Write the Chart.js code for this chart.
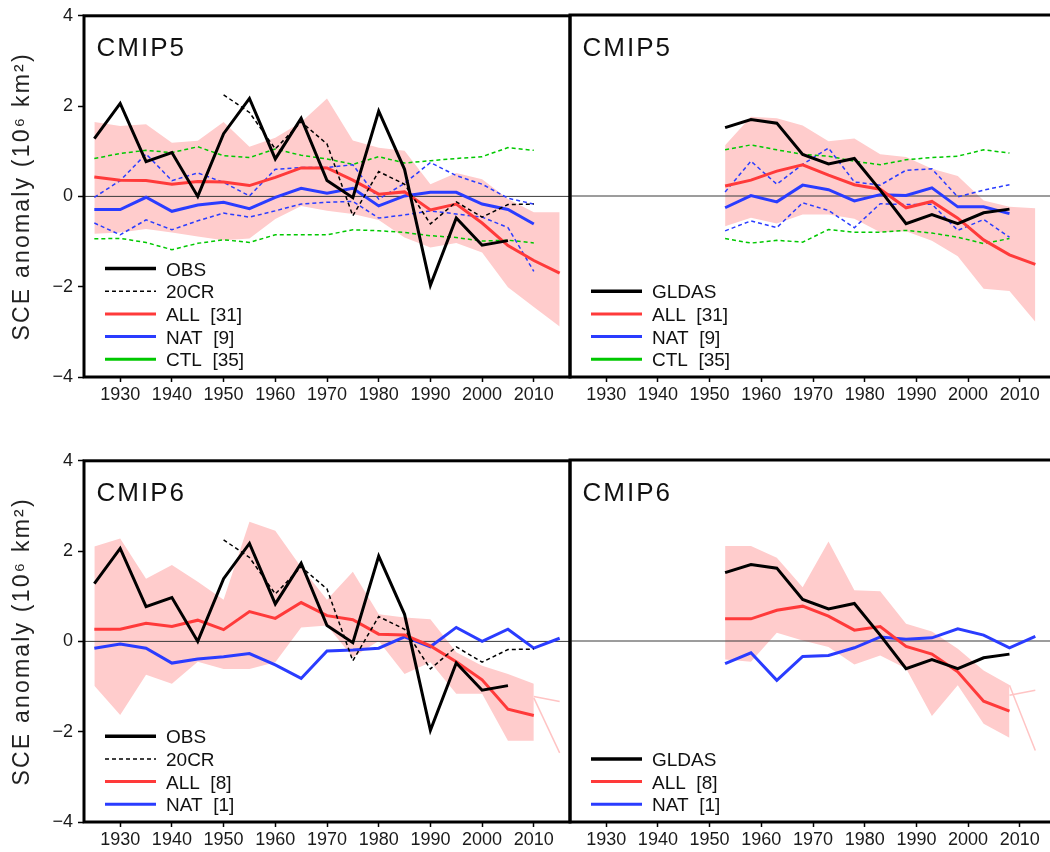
<!DOCTYPE html>
<html>
<head>
<meta charset="utf-8">
<title>SCE anomaly – CMIP5 / CMIP6</title>
<script src="https://cdn.jsdelivr.net/npm/chart.js@4/dist/chart.umd.min.js"></script>
<style>
  html, body { margin: 0; padding: 0; background: #fff; overflow: hidden; }
  #wrap { position: relative; width: 1050px; height: 852px; overflow: hidden; }
  #wrap canvas { position: absolute; }
</style>
</head>
<body>
<div id="wrap">
  <canvas id="p1" width="580" height="427" style="left:0px;top:0px"></canvas>
  <canvas id="p2" width="580" height="427" style="left:486px;top:0px"></canvas>
  <canvas id="p3" width="580" height="427" style="left:0px;top:445px"></canvas>
  <canvas id="p4" width="580" height="427" style="left:486px;top:445px"></canvas>
</div>
<script>
// ---------- axes ----------
const xMin = 1923, xMax = 2017;
const xTickYears = [1930, 1940, 1950, 1960, 1970, 1980, 1990, 2000, 2010];
const yTickValues = [-4, -2, 0, 2, 4];

// ---------- years of the 5-year means ----------
const yearsObs   = [1925,1930,1935,1940,1945,1950,1955,1960,1965,1970,1975,1980,1985,1990,1995,2000,2005];
const years20cr  = [1950,1955,1960,1965,1970,1975,1980,1985,1990,1995,2000,2005,2010];
const yearsModel = [1925,1930,1935,1940,1945,1950,1955,1960,1965,1970,1975,1980,1985,1990,1995,2000,2005,2010,2015];
const yearsGldas = [1953,1958,1963,1968,1973,1978,1983,1988,1993,1998,2003,2008,2013];
const yearsTail6 = [2010, 2015];
const yearsTail6G = [2008, 2013];

// ---------- observations / reanalyses ----------
const obs     = [1.28,2.06,0.77,0.97,0.00,1.39,2.17,0.83,1.73,0.35,-0.03,1.89,0.60,-1.97,-0.48,-1.08,-0.98];
const rean20cr = [2.25,1.86,1.05,1.65,1.16,-0.43,0.55,0.27,-0.61,-0.12,-0.46,-0.18,-0.17];
const gldas   = [1.51,1.69,1.61,0.92,0.71,0.83,0.13,-0.61,-0.41,-0.61,-0.37,-0.29];

// ---------- CMIP5, long period ----------
const cmip5All   = [0.43,0.36,0.35,0.27,0.33,0.32,0.24,0.42,0.63,0.63,0.36,0.05,0.10,-0.30,-0.17,-0.59,-1.09,-1.42,-1.70];
const cmip5AllHi = [1.65,1.56,1.60,1.19,1.23,1.65,1.10,1.30,1.64,2.17,1.24,1.08,1.01,0.27,0.52,0.38,-0.06,-0.35,-0.35];
const cmip5AllLo = [-0.83,-0.80,-0.72,-0.80,-0.89,-0.97,-0.93,-0.50,-0.21,-0.32,-0.39,-0.52,-0.91,-1.13,-1.03,-1.24,-2.01,-2.45,-2.88];
const cmip5Nat   = [-0.29,-0.29,-0.02,-0.33,-0.19,-0.13,-0.27,-0.02,0.18,0.07,0.18,-0.21,0.01,0.09,0.09,-0.17,-0.29,-0.61];
const cmip5NatHi = [-0.02,0.35,0.94,0.35,0.52,0.31,0.01,0.60,0.64,0.64,0.70,-0.06,0.29,0.75,0.46,0.27,-0.04,-0.17];
const cmip5NatLo = [-0.59,-0.85,-0.52,-0.74,-0.54,-0.37,-0.46,-0.32,-0.17,-0.13,-0.11,-0.48,-0.41,-0.32,-0.39,-0.46,-0.69,-1.66];
const cmip5CtlHi = [0.84,0.95,1.02,0.97,1.10,0.90,0.86,1.05,0.91,0.83,0.71,0.88,0.74,0.79,0.84,0.88,1.08,1.02];
const cmip5CtlLo = [-0.94,-0.93,-1.02,-1.18,-1.04,-0.96,-1.02,-0.85,-0.85,-0.85,-0.74,-0.76,-0.80,-0.87,-0.91,-0.99,-0.97,-1.03];

// ---------- CMIP5, GLDAS period ----------
const cmip5AllG   = [0.22,0.35,0.55,0.69,0.46,0.25,0.15,-0.26,-0.12,-0.49,-0.97,-1.30,-1.51];
const cmip5AllGHi = [1.12,1.75,1.72,1.56,1.21,1.27,0.92,0.86,0.60,0.44,-0.10,-0.24,-0.27];
const cmip5AllGLo = [-0.67,-0.48,-0.61,-0.41,-0.41,-0.50,-0.80,-0.78,-0.99,-1.33,-2.05,-2.10,-2.78];
const cmip5NatG   = [-0.26,0.01,-0.13,0.24,0.14,-0.11,0.03,0.01,0.18,-0.24,-0.24,-0.39];
const cmip5NatGHi = [0.09,0.77,0.26,0.70,1.06,0.31,0.24,0.57,0.60,-0.02,0.13,0.25];
const cmip5NatGLo = [-0.77,-0.55,-0.70,-0.15,-0.32,-0.70,-0.17,-0.19,-0.18,-0.76,-0.52,-0.91];
const cmip5CtlGHi = [1.02,1.13,1.02,0.92,0.88,0.77,0.69,0.80,0.85,0.88,1.02,0.95];
const cmip5CtlGLo = [-0.94,-1.04,-0.98,-1.02,-0.74,-0.80,-0.80,-0.76,-0.82,-0.91,-1.05,-0.94];

// ---------- CMIP6, long period ----------
const cmip6All   = [0.27,0.27,0.40,0.33,0.47,0.26,0.66,0.51,0.86,0.57,0.48,0.16,0.14,-0.10,-0.45,-0.85,-1.50,-1.64];
const cmip6AllHi = [2.10,2.28,1.39,1.69,1.32,0.92,2.65,2.45,1.64,0.92,1.54,0.60,0.53,0.49,-0.24,-0.54,-0.72,-0.94];
const cmip6AllLo = [-0.98,-1.63,-0.74,-0.94,-0.45,-0.61,-0.61,-0.46,0.31,0.35,-0.35,0.01,-0.72,-0.46,-1.16,-1.16,-2.20,-2.20];
const cmip6Nat   = [-0.15,-0.06,-0.15,-0.48,-0.39,-0.34,-0.27,-0.52,-0.82,-0.21,-0.19,-0.15,0.10,-0.12,0.31,0.00,0.27,-0.15,0.07];
const cmip6TailA = [-1.22,-1.33];
const cmip6TailB = [-1.25,-2.47];

// ---------- CMIP6, GLDAS period ----------
const cmip6AllG   = [0.49,0.49,0.68,0.77,0.55,0.24,0.32,-0.12,-0.29,-0.68,-1.33,-1.55];
const cmip6AllGHi = [2.10,2.10,1.84,1.19,2.20,1.12,1.10,0.38,0.21,-0.17,-0.65,-0.97];
const cmip6AllGLo = [-0.41,-0.46,0.18,0.01,-0.13,-0.52,-0.32,-0.61,-1.66,-0.98,-1.83,-2.14];
const cmip6NatG   = [-0.50,-0.26,-0.87,-0.34,-0.32,-0.15,0.09,0.04,0.07,0.27,0.13,-0.15,0.10];
const cmip6TailGA = [-0.98,-2.42];
const cmip6TailGB = [-1.20,-1.09];

// ---------- styling ----------
const FONT = "'Liberation Sans', Arial, Helvetica, sans-serif";
const C_OBS = '#000000', C_ALL = '#ff3a3a', C_NAT = '#2a3cff', C_CTL = '#00c800';
const C_BAND = '#ffcccc', C_TAIL = '#ffc4c4', C_ZERO = '#3a3a3a';

const pts = (xs, ys) => ys.map((y, i) => ({ x: xs[i], y }));

function solid(label, xs, ys, color, width, order, legend) {
  return { label, data: pts(xs, ys), borderColor: color, borderWidth: width, order, legend };
}
function dotted(label, xs, ys, color, order, legend) {
  return { label, data: pts(xs, ys), borderColor: color, borderWidth: 1.5, borderDash: [4, 3], order, legend };
}
function band(label, xs, hi, lo) {
  return [
    { label: label + ' max', data: pts(xs, hi), borderWidth: 0, borderColor: 'rgba(0,0,0,0)',
      backgroundColor: C_BAND, fill: '+1', order: 20 },
    { label: label + ' min', data: pts(xs, lo), borderWidth: 0, borderColor: 'rgba(0,0,0,0)',
      backgroundColor: C_BAND, fill: false, order: 20 }
  ];
}
function zeroLine() {
  return { label: 'zero', data: [{ x: xMin, y: 0 }, { x: xMax, y: 0 }], borderColor: C_ZERO, borderWidth: 1, order: 15 };
}

// rotated axis title gets a little extra tracking
const trackingPlugin = {
  id: 'tracking',
  beforeDraw(chart) {
    const ctx = chart.ctx;
    if (ctx.__tracked) return;
    const orig = ctx.fillText;
    ctx.fillText = function (...args) {
      const m = this.getTransform();
      if (Math.abs(m.b) > 1e-6) {
        const prev = this.letterSpacing;
        this.letterSpacing = '2.2px';
        orig.apply(this, args);
        this.letterSpacing = prev;
      } else {
        orig.apply(this, args);
      }
    };
    ctx.__tracked = true;
  }
};

// heavy frame around the plotting area
const framePlugin = {
  id: 'frame',
  afterDatasetsDraw(chart) {
    const { ctx, chartArea: a } = chart;
    ctx.save();
    ctx.strokeStyle = '#000';
    ctx.lineWidth = 3;
    ctx.strokeRect(a.left, a.top, a.right - a.left, a.bottom - a.top);
    ctx.restore();
  }
};

// panel name in the upper-left corner
const panelTitlePlugin = {
  id: 'panelTitle',
  afterDraw(chart, args, opts) {
    const { ctx, chartArea: a } = chart;
    ctx.save();
    ctx.font = `26px ${FONT}`;
    ctx.letterSpacing = '2px';
    ctx.fillStyle = '#111';
    ctx.textBaseline = 'alphabetic';
    ctx.fillText(opts.text, a.left + 12.5, a.top + 40.5);
    ctx.restore();
  }
};

// legend drawn inside the plot, anchored to the lower-left corner
const insetLegendPlugin = {
  id: 'insetLegend',
  afterDraw(chart) {
    const { ctx, chartArea: a } = chart;
    const items = chart.data.datasets.filter(d => d.legend);
    ctx.save();
    ctx.font = `19px ${FONT}`;
    ctx.textBaseline = 'alphabetic';
    items.forEach((d, i) => {
      const y = a.bottom - 17.7 - (items.length - 1 - i) * 22.7;
      ctx.beginPath();
      ctx.strokeStyle = d.borderColor;
      ctx.lineWidth = d.legend.width;
      ctx.setLineDash(d.legend.dash || []);
      ctx.moveTo(a.left + 21, y);
      ctx.lineTo(a.left + 72, y);
      ctx.stroke();
      ctx.setLineDash([]);
      ctx.fillStyle = '#111';
      ctx.fillText(d.label, a.left + 82, y + 7);
    });
    ctx.restore();
  }
};

function makePanel(id, title, showY, datasets) {
  return new Chart(document.getElementById(id), {
    type: 'line',
    data: { datasets },
    options: {
      responsive: false,
      animation: false,
      devicePixelRatio: 1,
      events: [],
      layout: { padding: { left: 0, top: 15, right: 10, bottom: 0 } },
      elements: {
        line: { tension: 0, borderCapStyle: 'butt', borderJoinStyle: 'miter' },
        point: { radius: 0, hoverRadius: 0 }
      },
      scales: {
        x: {
          type: 'linear', min: xMin, max: xMax,
          afterBuildTicks: s => { s.ticks = xTickYears.map(v => ({ value: v })); },
          afterFit: s => { s.height = 50; },
          border: { display: false },
          grid: { drawOnChartArea: false, drawTicks: true, tickLength: 5, tickColor: '#000', tickWidth: 1.5 },
          ticks: {
            autoSkip: false, maxRotation: 0, padding: 2, color: '#1a1a1a',
            font: { family: FONT, size: 18 },
            callback: v => String(v)
          }
        },
        y: {
          type: 'linear', min: -4, max: 4,
          afterBuildTicks: s => { s.ticks = yTickValues.map(v => ({ value: v })); },
          afterFit: s => { s.width = 84; },
          border: { display: false },
          grid: { display: showY, drawOnChartArea: false, drawTicks: true, tickLength: 6, tickColor: '#000', tickWidth: 1.5 },
          ticks: {
            display: showY, padding: 5, color: '#1a1a1a',
            font: { family: FONT, size: 18 },
            callback: v => (v < 0 ? '\u2212' + Math.abs(v) : String(v))
          },
          title: {
            display: showY, text: 'SCE anomaly (10\u2076 km\u00b2)', color: '#222',
            font: { family: FONT, size: 23 }, padding: { top: 9, bottom: 0 }
          }
        }
      },
      plugins: {
        legend: { display: false },
        tooltip: { enabled: false },
        panelTitle: { text: title }
      }
    },
    plugins: [trackingPlugin, framePlugin, panelTitlePlugin, insetLegendPlugin]
  });
}

// ---------- upper left: CMIP5 vs OBS / 20CR ----------
makePanel('p1', 'CMIP5', true, [
  solid('OBS', yearsObs, obs, C_OBS, 3, 1, { width: 3.5 }),
  dotted('20CR', years20cr, rean20cr, C_OBS, 2, { width: 1.5, dash: [4, 3] }),
  solid('ALL  [31]', yearsModel, cmip5All, C_ALL, 3, 4, { width: 3 }),
  solid('NAT  [9]', yearsModel, cmip5Nat, C_NAT, 3, 5, { width: 3 }),
  dotted('CTL  [35]', yearsModel, cmip5CtlHi, C_CTL, 8, { width: 3 }),
  dotted('CTL min', yearsModel, cmip5CtlLo, C_CTL, 8),
  dotted('NAT max', yearsModel, cmip5NatHi, C_NAT, 7),
  dotted('NAT min', yearsModel, cmip5NatLo, C_NAT, 7),
  ...band('ALL', yearsModel, cmip5AllHi, cmip5AllLo),
  zeroLine()
]);

// ---------- upper right: CMIP5 vs GLDAS ----------
makePanel('p2', 'CMIP5', false, [
  solid('GLDAS', yearsGldas, gldas, C_OBS, 3, 1, { width: 3.5 }),
  solid('ALL  [31]', yearsGldas, cmip5AllG, C_ALL, 3, 4, { width: 3 }),
  solid('NAT  [9]', yearsGldas, cmip5NatG, C_NAT, 3, 5, { width: 3 }),
  dotted('CTL  [35]', yearsGldas, cmip5CtlGHi, C_CTL, 8, { width: 3 }),
  dotted('CTL min', yearsGldas, cmip5CtlGLo, C_CTL, 8),
  dotted('NAT max', yearsGldas, cmip5NatGHi, C_NAT, 7),
  dotted('NAT min', yearsGldas, cmip5NatGLo, C_NAT, 7),
  ...band('ALL', yearsGldas, cmip5AllGHi, cmip5AllGLo),
  zeroLine()
]);

// ---------- lower left: CMIP6 vs OBS / 20CR ----------
makePanel('p3', 'CMIP6', true, [
  solid('OBS', yearsObs, obs, C_OBS, 3, 1, { width: 3.5 }),
  dotted('20CR', years20cr, rean20cr, C_OBS, 2, { width: 1.5, dash: [4, 3] }),
  solid('ALL  [8]', yearsModel, cmip6All, C_ALL, 3, 4, { width: 3 }),
  solid('NAT  [1]', yearsModel, cmip6Nat, C_NAT, 3, 5, { width: 3 }),
  solid('ALL tail a', yearsTail6, cmip6TailA, C_TAIL, 1.5, 9),
  solid('ALL tail b', yearsTail6, cmip6TailB, C_TAIL, 1.5, 9),
  ...band('ALL', yearsModel, cmip6AllHi, cmip6AllLo),
  zeroLine()
]);

// ---------- lower right: CMIP6 vs GLDAS ----------
makePanel('p4', 'CMIP6', false, [
  solid('GLDAS', yearsGldas, gldas, C_OBS, 3, 1, { width: 3.5 }),
  solid('ALL  [8]', yearsGldas, cmip6AllG, C_ALL, 3, 4, { width: 3 }),
  solid('NAT  [1]', yearsGldas, cmip6NatG, C_NAT, 3, 5, { width: 3 }),
  solid('ALL tail a', yearsTail6G, cmip6TailGA, C_TAIL, 1.5, 9),
  solid('ALL tail b', yearsTail6G, cmip6TailGB, C_TAIL, 1.5, 9),
  ...band('ALL', yearsGldas, cmip6AllGHi, cmip6AllGLo),
  zeroLine()
]);
</script>
</body>
</html>
